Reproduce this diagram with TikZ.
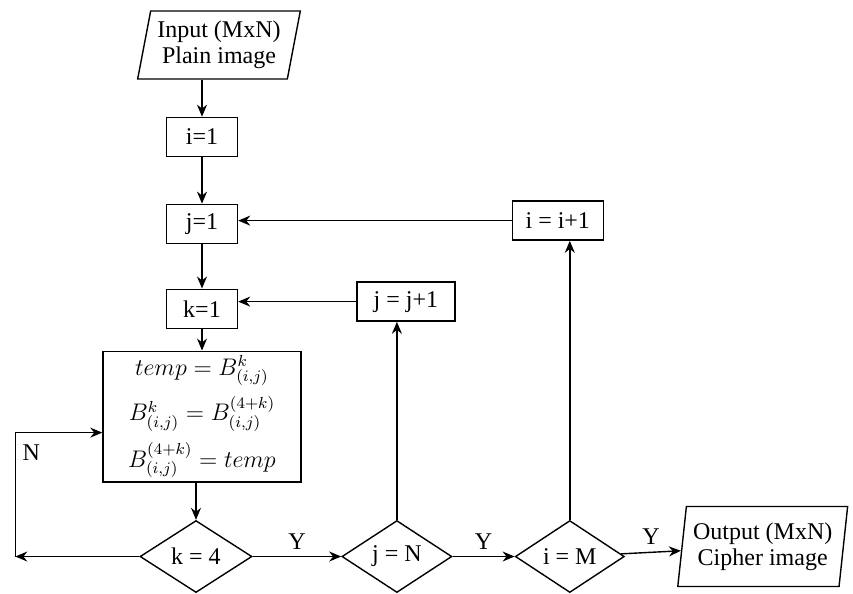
\documentclass[tikz,border=0pt]{standalone}
\usepackage{fontspec}
\setmainfont{Liberation Serif}
\usetikzlibrary{shapes.geometric,arrows.meta}
\begin{document}
\begin{tikzpicture}[font=\fontsize{12}{13}\selectfont]

  % Definitions
  \tikzstyle{process} = [rectangle, minimum width=35.5pt, minimum height=19.5pt, text centered, draw=black, line width=0.7pt]
  \tikzstyle{decision} = [diamond, minimum width=56pt, minimum height=36pt, inner sep=0pt, text centered, draw=black, line width=0.7pt]
  \tikzstyle{io} = [trapezium, trapezium left angle=78, trapezium right angle=102, trapezium stretches=true, align=center, draw=black, line width=0.7pt]
  \tikzstyle{arrow} = [line width=0.7pt,->,>={Stealth[length=6pt,width=5pt]}]

  \node (in) [io, minimum width=79pt, minimum height=34pt] {Input (MxN)\\Plain image};
  \node (i1) [process, below of=in, xshift=-8.5pt, yshift=-17.5pt] {i=1};
  \node (j1) [process, below of=i1, yshift=-15pt] {j=1};
  \node (k1) [process, below of=j1, yshift=-14pt] {k=1};
  \node (swap) [process, below of=k1, yshift=-25.5pt, minimum width=99pt, minimum height=47.5pt, inner sep=2pt, align=center]
    {$temp = B^{k}_{(i,j)}$\\[4.5pt] $B^{k}_{(i,j)} = B^{(4+k)}_{(i,j)}$\\[4.5pt] $B^{(4+k)}_{(i,j)} = temp$};

  \node (k4) [decision, below of=swap, xshift=-3pt, yshift=-41.5pt] {k = 4};
  \node (jN) [decision, right of=k4, xshift=72pt, minimum width=55pt] {j = N};
  \node (iM) [decision, right of=jN, xshift=58pt, minimum width=54.5pt] {i = M};
  \node (out) [io, right of=iM, xshift=68pt, yshift=5pt, trapezium left angle=82, trapezium right angle=98, minimum width=84.5pt, minimum height=40pt] {Output (MxN)\\Cipher image};

  \node (jinc) [process, above of=jN, xshift=4.5pt, yshift=99pt, minimum width=49pt] {j = j+1};
  \node (iinc) [process, above of=iM, xshift=-6pt, yshift=139.5pt, minimum width=45.5pt] {i = i+1};

  \coordinate (nback) at ([xshift=-62pt]k4.west);

  \draw [arrow] (in.south -| i1) -- (i1);
  \draw [arrow] (i1) -- (j1);
  \draw [arrow] (j1) -- (k1);
  \draw [arrow] (k1) -- (swap);
  \draw [arrow] (swap.south -| k4) -- (k4);

  \draw [arrow] (k4) -- node[anchor=south] {Y} (jN);
  \draw [arrow] (jN) -- node[anchor=south] {Y} (iM);
  \draw [arrow] (iM) -- node[anchor=south] {Y} (out);

  \draw [arrow] (k4) -- (nback);
  \draw [arrow] (nback) |- node[right, pos=0.42] {N} ([yshift=-8pt]swap.west);

  \draw [arrow] (jN) -- (jN |- jinc.south);
  \draw [arrow] (jinc) -- (jinc -| k1.east);
  \draw [arrow] (iM) -- (iM |- iinc.south);
  \draw [arrow] (iinc) -- (iinc -| j1.east);

  \useasboundingbox (-109.5pt,22.5pt) rectangle (317pt,-274.5pt);
\end{tikzpicture}
\end{document}
